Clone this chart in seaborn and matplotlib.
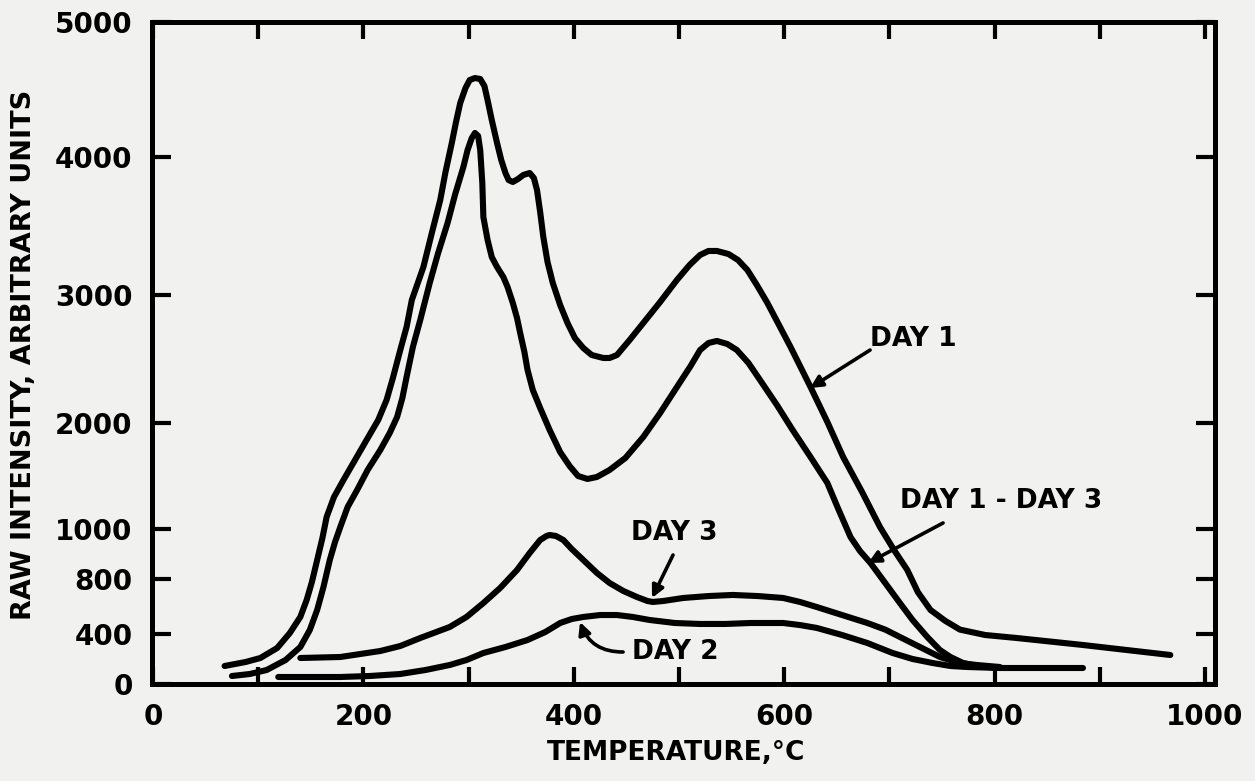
import numpy as np
import pandas as pd
import matplotlib
matplotlib.use("Agg")
import matplotlib.pyplot as plt
from matplotlib.scale import FuncScale
import seaborn as sns

# ---------------- data ----------------
day1_temp = [68, 88, 102, 118, 130, 140, 146, 151, 156, 161, 165, 172, 181, 192, 203,
             214, 222, 228, 235, 241, 246, 257, 265, 273, 278, 284, 288, 292, 297, 301,
             306, 311, 315, 318, 322, 327, 331, 335, 338, 342, 347, 352, 358, 362, 365,
             368, 371, 375, 380, 387, 394, 401, 409, 417, 428, 434, 441, 453, 466, 482,
             498, 510, 520, 528, 536, 547, 556, 565, 574, 584, 606, 625, 641, 656, 674,
             691, 705, 717, 727, 739, 753, 767, 791, 821, 884, 967]
day1_val = [144, 176, 208, 288, 407, 524, 647, 778, 876, 964, 1113, 1302, 1462, 1651, 1840,
            2023, 2180, 2352, 2570, 2750, 2961, 3203, 3449, 3688, 3891, 4104, 4259, 4400, 4511, 4570,
            4585, 4578, 4526, 4422, 4274, 4104, 3978, 3884, 3833, 3819, 3841, 3870, 3884, 3848, 3761,
            3601, 3420, 3239, 3087, 2922, 2781, 2664, 2586, 2531, 2508, 2508, 2531, 2648, 2781, 2945,
            3109, 3217, 3290, 3319, 3319, 3297, 3254, 3181, 3072, 2938, 2594, 2281, 2008, 1679, 1349,
            1019, 912, 836, 705, 575, 496, 432, 392, 368, 312, 232]

diff_temp = [75, 92, 108, 126, 140, 149, 156, 162, 168, 173, 178, 185, 194, 204, 216,
             225, 232, 237, 241, 247, 254, 263, 271, 280, 287, 295, 299, 303, 306, 309,
             311, 313, 314, 318, 322, 327, 333, 337, 342, 346, 349, 353, 356, 361, 368,
             377, 387, 396, 404, 413, 422, 434, 449, 466, 482, 498, 511, 520, 528, 536,
             546, 555, 566, 577, 593, 608, 625, 641, 651, 663, 672, 682, 696, 710, 722,
             736, 748, 758, 770, 783, 805, 884]
diff_val = [64, 80, 112, 192, 296, 429, 575, 742, 876, 948, 1019, 1208, 1368, 1557, 1745,
            1906, 2047, 2195, 2359, 2594, 2805, 3087, 3304, 3522, 3725, 3928, 4052, 4141, 4178, 4156,
            4052, 3812, 3565, 3399, 3275, 3203, 3130, 3058, 2938, 2820, 2703, 2555, 2414, 2258, 2117,
            1934, 1726, 1594, 1500, 1472, 1491, 1557, 1670, 1868, 2078, 2281, 2445, 2570, 2625, 2641,
            2617, 2570, 2469, 2336, 2141, 1934, 1679, 1434, 1198, 968, 912, 864, 771, 625, 502,
            376, 272, 216, 168, 144, 128, 128]

day3_temp = [140, 178, 216, 235, 254, 282, 298, 314, 330, 346, 358, 368, 374, 377, 383,
             390, 398, 409, 422, 434, 447, 460, 470, 475, 485, 504, 528, 551, 575, 599,
             615, 631, 655, 679, 696, 710, 729, 748, 767, 783, 805]
day3_val = [208, 216, 264, 304, 368, 451, 524, 625, 735, 836, 904, 956, 972, 976, 972,
            956, 920, 876, 824, 771, 713, 669, 640, 633, 640, 662, 676, 684, 676, 662,
            633, 596, 538, 480, 432, 376, 296, 216, 168, 152, 136]

day2_temp = [119, 149, 178, 206, 235, 259, 282, 298, 314, 335, 356, 373, 387, 398, 409,
             425, 441, 456, 472, 496, 520, 544, 568, 599, 615, 631, 655, 679, 691, 703,
             722, 741, 758, 774, 805]
day2_val = [56, 56, 56, 64, 80, 112, 152, 192, 248, 296, 352, 415, 480, 509, 524,
            538, 538, 524, 502, 480, 473, 473, 480, 480, 465, 444, 392, 328, 288, 248,
            200, 168, 144, 136, 128]

x_tick_values = [0, 200, 400, 600, 800, 1000]
x_tick_labels = ["0", "200", "400", "600", "800", "1000"]
x_minor_values = [100, 300, 500, 700, 900]
y_tick_values = [0, 400, 800, 1000, 2000, 3000, 4000, 5000]
y_tick_labels = ["0", "400", "800", "1000", "2000", "3000", "4000", "5000"]
# relative vertical placement of the (non-uniform) y tick marks on the original axis
y_tick_positions = [0, 50, 105, 155, 261, 389, 527, 662]

# ---------------- figure ----------------
sns.set_theme(style="white")
plt.rcParams["font.family"] = ["DejaVu Sans"]
plt.rcParams["text.color"] = "black"
plt.rcParams["axes.labelcolor"] = "black"
bg = "#f1f1f0"
W, H = 1255, 781
fig = plt.figure(figsize=(W / 100, H / 100), dpi=100, facecolor=bg)
ax = fig.add_axes([152 / W, (H - 684) / H, (1215 - 152) / W, (684 - 22) / H])
ax.set_facecolor(bg)


def fwd(v):
    return np.interp(v, y_tick_values, y_tick_positions)


def inv(u):
    return np.interp(u, y_tick_positions, y_tick_values)


ax.set_yscale(FuncScale(ax.yaxis, (fwd, inv)))

frames = []
for name, t, v in [("DAY 1", day1_temp, day1_val), ("DAY 1 - DAY 3", diff_temp, diff_val),
                   ("DAY 3", day3_temp, day3_val), ("DAY 2", day2_temp, day2_val)]:
    frames.append(pd.DataFrame({"temp": t, "val": v, "series": name}))
df = pd.concat(frames, ignore_index=True)

for name, sub in df.groupby("series", sort=False):
    sns.lineplot(data=sub, x="temp", y="val", ax=ax, color="black", lw=4.4,
                 sort=False, estimator=None, legend=False,
                 solid_joinstyle="round", solid_capstyle="round")

ax.set_xlim(-1, 1009.5)
ax.set_ylim(0, 5000)

ax.set_xticks(x_tick_values)
ax.set_xticklabels(x_tick_labels)
ax.set_xticks(x_minor_values, minor=True)
ax.set_yticks(y_tick_values)
ax.set_yticklabels(y_tick_labels)
ax.yaxis.set_minor_locator(matplotlib.ticker.NullLocator())

ax.tick_params(axis="x", which="both", direction="in", top=True, bottom=True,
               length=12, width=3, color="black", labelsize=20, pad=14,
               labelcolor="black")
ax.tick_params(axis="y", which="both", direction="in", left=True, right=True,
               length=14, width=3, color="black", labelsize=20, pad=14,
               labelcolor="black")
for lab in ax.get_xticklabels() + ax.get_yticklabels():
    lab.set_fontweight("bold")

for s in ax.spines.values():
    s.set_visible(True)
    s.set_color("black")
    s.set_linewidth(3.6)

ax.set_xlabel("TEMPERATURE,°C", fontsize=19, fontweight="bold", color="black")
ax.set_ylabel("RAW INTENSITY, ARBITRARY UNITS", fontsize=19.5, fontweight="bold", color="black")
ax.xaxis.set_label_coords(0.493, -0.085)
ax.yaxis.set_label_coords(-0.108, 0.497)

arrow_kw = dict(arrowstyle="-|>", color="black", lw=2.6, mutation_scale=18,
                shrinkA=0, shrinkB=0)
txt_kw = dict(fontsize=19, fontweight="bold", color="black")

# DAY 1
ax.annotate("", xy=(624.5, 2273), xytext=(681.6, 2570), arrowprops=arrow_kw)
ax.text(681.6, 2656, "DAY 1", ha="left", va="center", **txt_kw)
# DAY 1 - DAY 3
ax.annotate("", xy=(679.7, 864), xytext=(751, 1057), arrowprops=arrow_kw)
ax.text(710, 1264, "DAY 1 - DAY 3", ha="left", va="center", **txt_kw)
# DAY 3
ax.annotate("", xy=(474.3, 662), xytext=(494.3, 896), arrowprops=arrow_kw)
ax.text(495.2, 984, "DAY 3", ha="center", va="center", **txt_kw)
# DAY 2
ax.annotate("", xy=(405.9, 487), xytext=(446.8, 256),
            arrowprops=dict(arrow_kw, connectionstyle="arc3,rad=-0.35"))
ax.text(496.2, 256, "DAY 2", ha="center", va="center", **txt_kw)

fig.savefig("out.png", dpi=100, facecolor=bg)
